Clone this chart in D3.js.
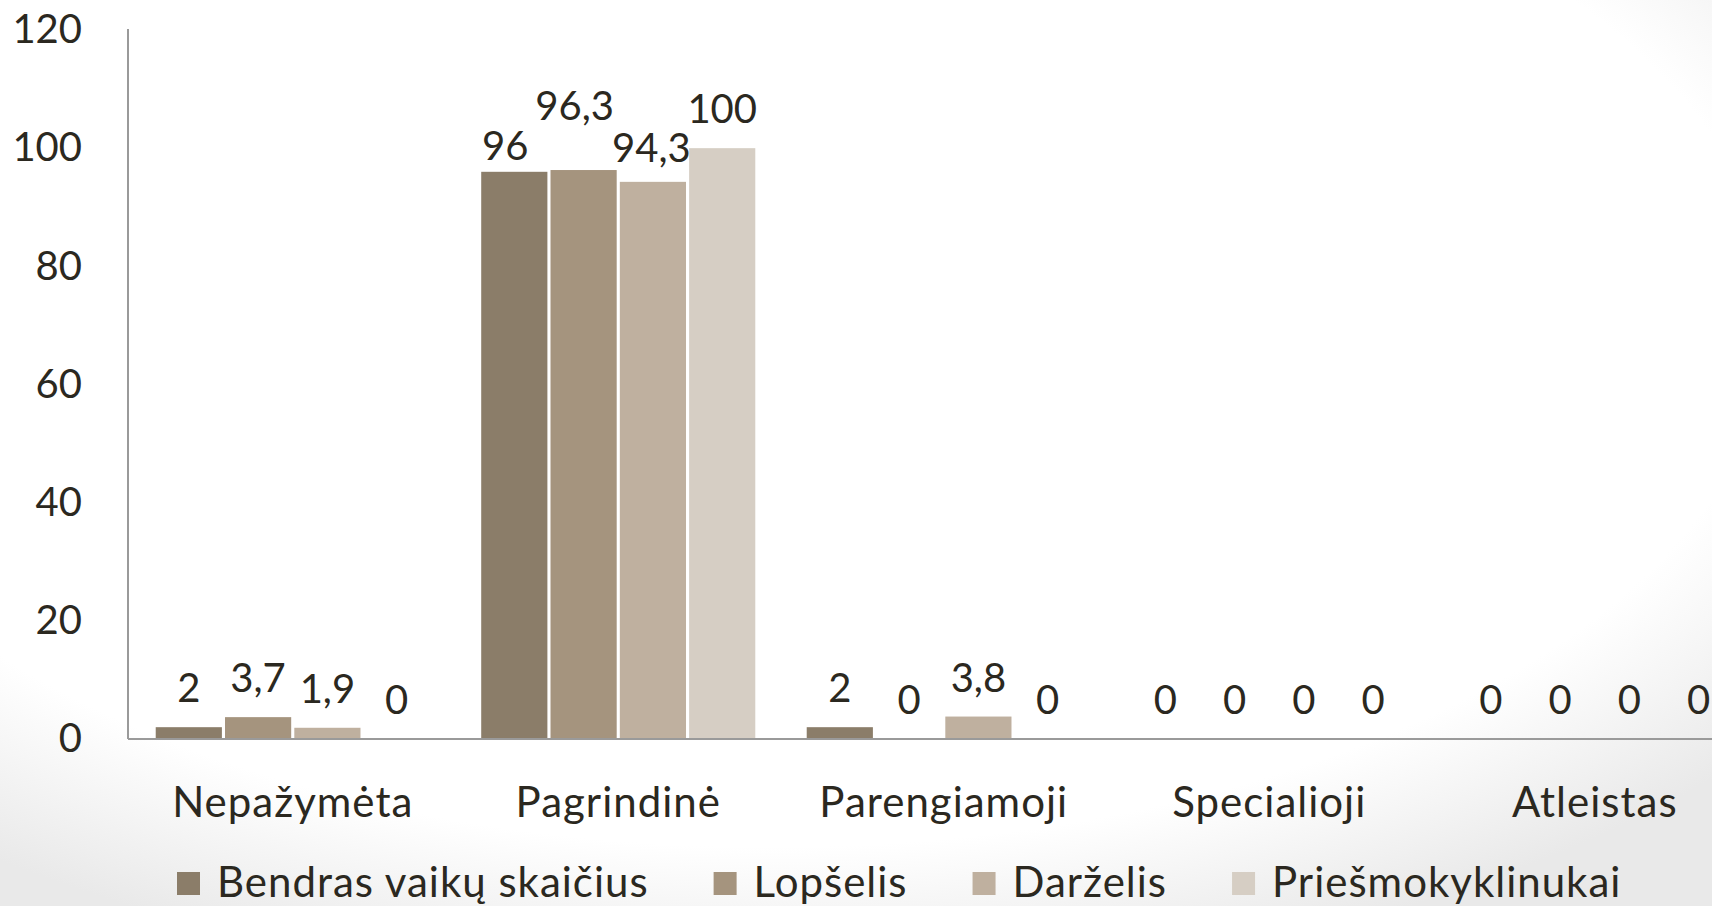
<!DOCTYPE html>
<html><head><meta charset="utf-8">
<script src="https://cdn.jsdelivr.net/npm/d3@7"></script>
<style>
html,body{margin:0;padding:0;background:#fff;overflow:hidden;}
svg{display:block;}
text{font-family:Lato,"Open Sans",sans-serif;fill:#2b2820;}
</style></head>
<body>
<svg id="chart" width="1712" height="906"></svg>
<script>
const categories = ["Nepažymėta", "Pagrindinė", "Parengiamoji", "Specialioji", "Atleistas"];
const seriesNames = ["Bendras vaikų skaičius", "Lopšelis", "Darželis", "Priešmokyklinukai"];
const bendras = [2, 96, 2, 0, 0];
const lopselis = [3.7, 96.3, 0, 0, 0];
const darzelis = [1.9, 94.3, 3.8, 0, 0];
const priesmokyklinukai = [0, 100, 0, 0, 0];
const yTicks = [0, 20, 40, 60, 80, 100, 120];
const colors = ["#8b7d69", "#a5947e", "#bfb09f", "#d6cec4"];

const seriesValues = [bendras, lopselis, darzelis, priesmokyklinukai];

(function () {
const svg = d3.select("#chart");
const W = 1712, H = 906;

const defs = svg.append("defs");
const rg = defs.append("radialGradient").attr("id", "bg")
  .attr("cx", "45%").attr("cy", "35%").attr("r", "75%");
rg.append("stop").attr("offset", "0.78").attr("stop-color", "#ffffff");
rg.append("stop").attr("offset", "1").attr("stop-color", "#e9e9e9");
svg.append("rect").attr("width", W).attr("height", H).attr("fill", "url(#bg)");

const mLeft = 128, mRight = 1757.5, mTop = 30, mBottom = 739;
const x0 = d3.scaleBand().domain(categories).range([mLeft + 2, mRight])
  .paddingInner(0.158).paddingOuter(0.079);
const x1 = d3.scaleBand().domain(d3.range(seriesNames.length)).range([0, x0.bandwidth()])
  .paddingInner(0.045).paddingOuter(0);
const y = d3.scaleLinear().domain([0, 120]).range([mBottom, mTop]);

const fs = 40, fsText = 42, ls = "1px";

const yAxis = d3.axisLeft(y).tickValues(yTicks).tickSize(0).tickPadding(46).tickFormat(d3.format("d"));
const ga = svg.append("g").attr("transform", `translate(${mLeft},0)`).call(yAxis);
ga.select(".domain").remove();
ga.selectAll("text").style("font-size", fs + "px").attr("fill", "#2b2820")
  .style("font-family", "Lato, 'Open Sans', sans-serif");

const data = [];
categories.forEach((c, ci) => seriesValues.forEach((arr, si) => data.push({c, ci, si, v: arr[ci]})));
svg.append("g").selectAll("rect").data(data).join("rect")
  .attr("x", d => x0(d.c) + x1(d.si))
  .attr("width", x1.bandwidth())
  .attr("y", d => y(d.v))
  .attr("height", d => y(0) - y(d.v))
  .attr("fill", d => colors[d.si]);

svg.append("line").attr("x1", mLeft).attr("x2", mLeft).attr("y1", 29).attr("y2", mBottom)
  .attr("stroke", "#9a9a9a").attr("stroke-width", 2);
svg.append("line").attr("x1", mLeft).attr("x2", mRight).attr("y1", mBottom).attr("y2", mBottom)
  .attr("stroke", "#9a9a9a").attr("stroke-width", 2);

const nudge = {"1-0": [-9, 13], "1-1": [-9, -25], "1-2": [-1.5, 5], "1-3": [0, 0]};
const fmt = v => String(v).replace(".", ",");
svg.append("g").selectAll("text").data(data).join("text")
  .attr("x", d => x0(d.c) + x1(d.si) + x1.bandwidth() / 2 + ((nudge[d.ci + "-" + d.si] || [0, 0])[0]))
  .attr("y", d => y(d.v) - 25 + ((nudge[d.ci + "-" + d.si] || [0, 0])[1]))
  .attr("text-anchor", "middle")
  .style("font-size", fs + "px")
  .text(d => fmt(d.v));

svg.append("g").selectAll("text").data(categories).join("text")
  .attr("x", d => x0(d) + x0.bandwidth() / 2)
  .attr("y", 817)
  .attr("text-anchor", "middle")
  .style("font-size", fsText + "px")
  .style("letter-spacing", ls)
  .text(d => d);

const lg = svg.append("g");
const items = lg.selectAll("g").data(seriesNames).join("g");
items.append("rect").attr("width", 23).attr("height", 23).attr("y", 872)
  .attr("fill", (d, i) => colors[i]);
items.append("text").attr("y", 897).attr("x", 40)
  .style("font-size", fsText + "px").style("letter-spacing", ls).text(d => d);
const widths = [];
items.each(function () {
  const w = d3.select(this).select("text").node().getComputedTextLength();
  widths.push(40 + w);
});
const gap = 65;
let start = 177;
items.attr("transform", (d, i) => {
  const t = `translate(${start},0)`;
  start += widths[i] + gap;
  return t;
});
})();
</script>
</body></html>
